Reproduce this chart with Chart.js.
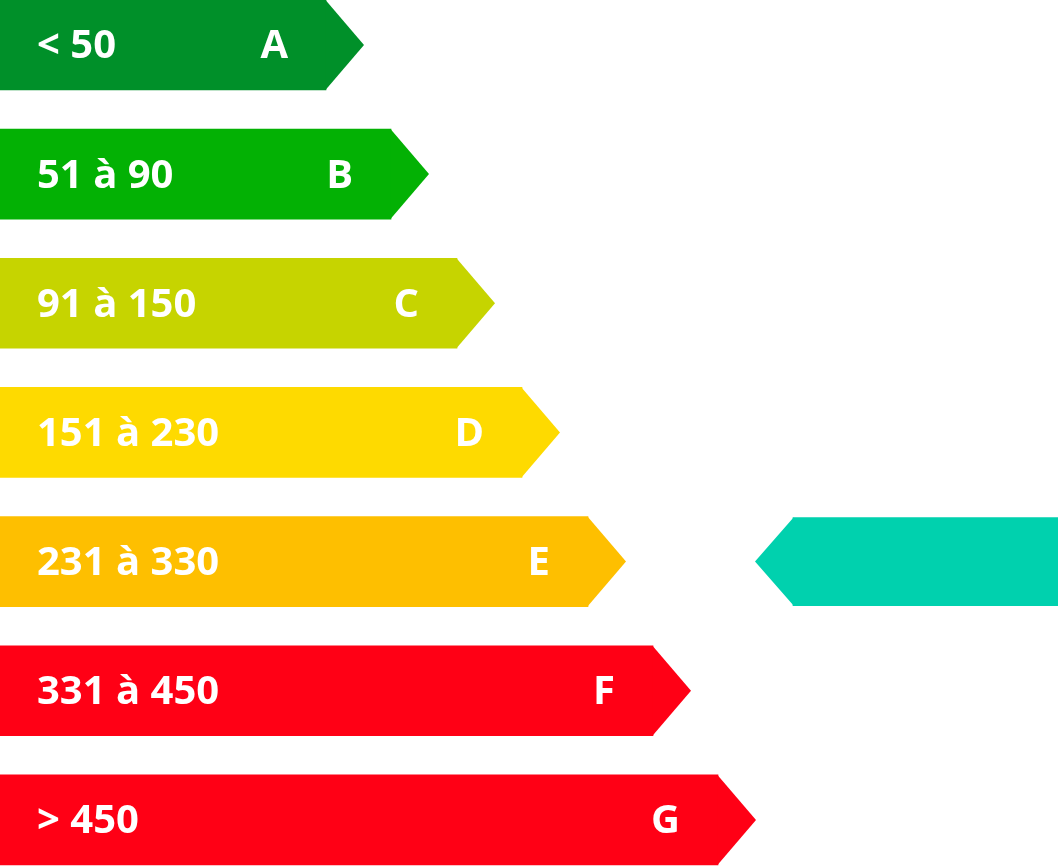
<!DOCTYPE html>
<html><head><meta charset="utf-8">
<script src="https://cdn.jsdelivr.net/npm/chart.js@4"></script>
<style>html,body{margin:0;padding:0;background:#fff;overflow:hidden}#w{width:1058px;height:868px}</style>
</head><body><div id="w"><canvas id="c"></canvas></div>
<script>
const ranges = ["< 50","51 à 90","91 à 150","151 à 230","231 à 330","331 à 450","> 450"];
const letters = ["A","B","C","D","E","F","G"];
const barEnds = [326,391,457,522,588,653,718];
const colors = ["#009029","#03B104","#C6D400","#FEDA00","#FEBF00","#FF0015","#FF0015"];
const markerRow = 4;
const markerRange = [793,1058];
const markerColor = "#00D1AE";

const tipPlugin = {
  id:'tips',
  afterDatasetsDraw(chart){
    const ctx = chart.ctx;
    chart.data.datasets.forEach((ds,di)=>{
      chart.getDatasetMeta(di).data.forEach((el,i)=>{
        const p = el.getProps(['x','y','base','height'],true);
        const h = p.height, top = p.y-h/2, bot = p.y+h/2, tw = 38;
        ctx.save();
        ctx.fillStyle = Array.isArray(ds.backgroundColor)?ds.backgroundColor[i]:ds.backgroundColor;
        ctx.beginPath();
        if(di===0){ctx.moveTo(p.x-0.5,top);ctx.lineTo(p.x+tw,p.y);ctx.lineTo(p.x-0.5,bot);}
        else{const l=Math.min(p.x,p.base);ctx.moveTo(l+0.5,top);ctx.lineTo(l-tw,p.y);ctx.lineTo(l+0.5,bot);}
        ctx.closePath();ctx.fill();
        if(di===0){
          ctx.fillStyle='#fff';ctx.font='bold 40px "Open Sans", sans-serif';
          ctx.textBaseline='middle';ctx.textAlign='left';
          ctx.fillText(ranges[i],37,p.y+2);
          ctx.textAlign='right';
          ctx.fillText(letters[i],p.x-38,p.y+2);
        }
        ctx.restore();
      });
    });
  }
};

new Chart(document.getElementById('c'),{
  type:'bar',
  data:{datasets:[
    {data:barEnds.map((v,i)=>({x:v,y:i})),backgroundColor:colors,barThickness:90,grouped:false,borderWidth:0},
    {data:[{x:markerRange,y:markerRow}],backgroundColor:markerColor,barThickness:88,grouped:false,borderWidth:0}
  ]},
  options:{
    indexAxis:'y',responsive:true,maintainAspectRatio:false,animation:false,
    layout:{padding:0},
    plugins:{legend:{display:false},tooltip:{enabled:false}},
    scales:{
      x:{type:'linear',min:0,max:1058,display:false},
      y:{type:'linear',min:-0.348,max:6.372,reverse:true,offset:false,grace:0,display:false}
    }
  },
  plugins:[tipPlugin]
});
</script></body></html>
